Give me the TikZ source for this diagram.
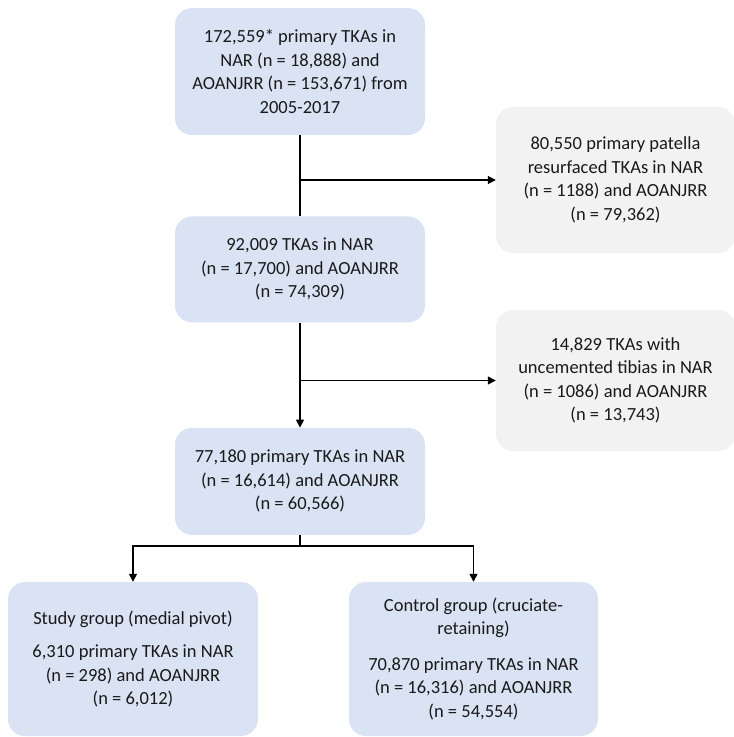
\documentclass[tikz,border=0pt]{standalone}
\usepackage{fontspec}
\setmainfont{Carlito}
\usetikzlibrary{positioning,arrows.meta}
\definecolor{paleblue}{HTML}{D9E3F3}
\definecolor{palegrey}{HTML}{F2F2F2}
\definecolor{ink}{HTML}{1A1A1A}

\begin{document}
\begin{tikzpicture}[
  x=1pt,y=1pt,
  node distance=10pt,
  box/.style={fill=paleblue,rounded corners=17pt,minimum width=250pt,inner sep=0pt,align=center,text=ink,font=\fontsize{18.5}{23.5}\selectfont},
  excl/.style={box,fill=palegrey,minimum width=239pt},
  line/.style={draw=black,line width=1.4pt},
  arr/.style={line,-{Triangle[length=8pt,width=8pt]}}]
\useasboundingbox (0,0) rectangle (734,-737);
\node[box,minimum height=127pt] (top) at (300,-71.5) {172,559* primary TKAs in\\NAR (n = 18,888) and\\AOANJRR (n = 153,671) from\\2005-2017};
\node[box,minimum height=106pt,below=81pt of top] (mid) {92,009 TKAs in NAR\\(n = 17,700) and AOANJRR\\(n = 74,309)};
\node[box,minimum height=107pt,below=105pt of mid] (final) {77,180 primary TKAs in NAR\\(n = 16,614) and AOANJRR\\(n = 60,566)};
\node[excl,minimum height=146pt] (patella) at (615.5,-180) {80,550 primary patella\\resurfaced TKAs in NAR\\(n = 1188) and AOANJRR\\(n = 79,362)};
\node[excl,minimum height=141pt] (uncem) at (615.5,-380.5) {14,829 TKAs with\\uncemented tibias in NAR\\(n = 1086) and AOANJRR\\(n = 13,743)};
\node[box,minimum height=154pt] (study) at (133,-659) {Study group (medial pivot)\\[10pt]6,310 primary TKAs in NAR\\(n = 298) and AOANJRR\\(n = 6,012)};
\node[box,minimum width=249pt,minimum height=154pt] (control) at (473.5,-659) {Control group (cruciate-\\retaining)\\[12pt]70,870 primary TKAs in NAR\\(n = 16,316) and AOANJRR\\(n = 54,554)};
\coordinate (b1) at (top.south |- patella.west);
\coordinate (b2) at (mid.south |- uncem.west);
\coordinate (split) at ([yshift=-11pt]final.south);
\draw[line] (top) -- (mid);
\draw[arr] (b1) -- (patella);
\draw[arr] (mid) -- (final);
\draw[arr] (b2) -- (uncem);
\draw[line] (final) -- (split);
\draw[arr] (split) -| (study);
\draw[arr] (split) -| (control);
\end{tikzpicture}
\end{document}
